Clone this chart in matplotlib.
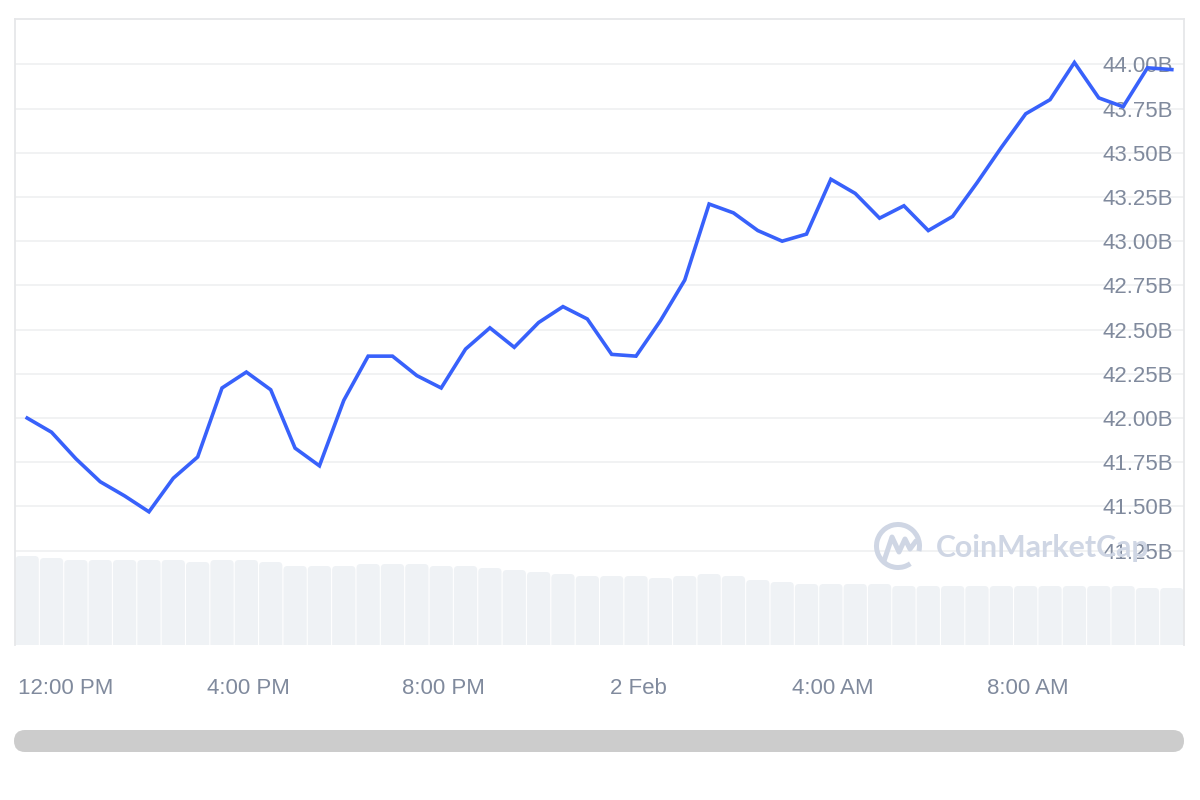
import matplotlib
matplotlib.use("Agg")
import matplotlib.pyplot as plt
import matplotlib.dates as mdates
import matplotlib.transforms as mtransforms
from matplotlib.patches import FancyBboxPatch, Arc
from matplotlib.lines import Line2D
import pandas as pd

# market cap, billions, one point every 30 min
price = [42.00, 41.92, 41.77, 41.64, 41.56, 41.47, 41.66, 41.78, 42.17, 42.26,
         42.16, 41.83, 41.73, 42.10, 42.35, 42.35, 42.24, 42.17, 42.39, 42.51,
         42.40, 42.54, 42.63, 42.56, 42.36, 42.35, 42.55, 42.78, 43.21, 43.16,
         43.06, 43.00, 43.04, 43.35, 43.27, 43.13, 43.20, 43.06, 43.14, 43.33,
         43.53, 43.72, 43.80, 44.01, 43.81, 43.76, 43.98, 43.97]
# volume, relative units
volume = [8.9, 8.7, 8.5, 8.5, 8.5, 8.5, 8.5, 8.3, 8.5, 8.5,
          8.3, 7.9, 7.9, 7.9, 8.1, 8.1, 8.1, 7.9, 7.9, 7.7,
          7.5, 7.3, 7.1, 6.9, 6.9, 6.9, 6.7, 6.9, 7.1, 6.9,
          6.5, 6.3, 6.1, 6.1, 6.1, 6.1, 5.9, 5.9, 5.9, 5.9,
          5.9, 5.9, 5.9, 5.9, 5.9, 5.9, 5.7, 5.7]
times = pd.date_range("2024-02-01 11:27", periods=len(price), freq="30min")

ytick_values = [41.25, 41.50, 41.75, 42.00, 42.25, 42.50, 42.75, 43.00, 43.25, 43.50, 43.75, 44.00]
xtick_times = pd.to_datetime(["2024-02-01 12:00", "2024-02-01 16:00", "2024-02-01 20:00",
                              "2024-02-02 00:00", "2024-02-02 04:00", "2024-02-02 08:00"])
xtick_labels = ["12:00 PM", "4:00 PM", "8:00 PM", "2 Feb", "4:00 AM", "8:00 AM"]

BLUE = "#3861fb"
GREY_TXT = "#808a9d"
BAR = "#eff2f5"
GRID = "#f0f1f2"

plt.rcParams['font.family'] = ['Liberation Sans', 'DejaVu Sans']

W, H = 1200, 800
fig = plt.figure(figsize=(12, 8), dpi=100)
ax = fig.add_axes([15 / W, 1 - 645 / H, 1169 / W, 626 / H])
ax2 = ax.twinx()
ax.set_zorder(2)
ax2.set_zorder(1)
ax.patch.set_visible(False)

x = mdates.date2num(times)
step = x[1] - x[0]
ax.set_xlim(x[0] - step / 2, x[-1] + step / 2)
ax.set_ylim(40.717, 44.256)
ax2.set_ylim(0, 62.6)

# volume bars with rounded tops
bars = ax2.bar(x, volume, width=step * 0.955, color=BAR)
px_x = step / 24.36
px_y = 0.1
for b in bars:
    b.set_visible(False)
    r = FancyBboxPatch((b.get_x(), -1), b.get_width(), b.get_height() + 1,
                       boxstyle=f"round,pad=0,rounding_size={4 * px_x}",
                       mutation_aspect=px_y / px_x, facecolor=BAR, edgecolor="none")
    ax2.add_patch(r)
ax2.set_yticks([])
for s in ax2.spines.values():
    s.set_visible(False)

ax.plot(x, price, color=BLUE, lw=2.6, solid_joinstyle="miter", zorder=3)

ax.set_yticks(ytick_values)
ax.set_yticklabels([f"{v:.2f}B" for v in ytick_values])
ax.yaxis.tick_right()
ax.tick_params(axis="y", length=0, pad=-8, labelsize=16, labelcolor=GREY_TXT)
for lbl in ax.get_yticklabels():
    lbl.set_horizontalalignment("right")
ax.grid(axis="y", color=GRID, lw=1.3)
ax.set_axisbelow(True)

ax.set_xticks(mdates.date2num(xtick_times))
ax.set_xticklabels(xtick_labels)
ax.tick_params(axis="x", length=0, pad=24, labelsize=16, labelcolor=GREY_TXT)
first = ax.get_xticklabels()[0]
first.set_transform(first.get_transform() + mtransforms.ScaledTranslation(0.12, 0, fig.dpi_scale_trans))

for side in ["left", "top", "right"]:
    ax.spines[side].set_color("#e6e7e9")
    ax.spines[side].set_linewidth(1.3)
ax.spines["bottom"].set_visible(False)


def fx(px):
    return px / W


def fy(py):
    return 1 - py / H


# watermark
WM = "#cfd6e4"
fig.add_artist(Arc((fx(898), fy(546)), 43 / W, 43 / H, theta1=-20, theta2=295,
                   transform=fig.transFigure, color=WM, lw=3.6, zorder=5))
fig.add_artist(Line2D([fx(884), fx(892), fx(899), fx(905), fx(910), fx(916)],
                      [fy(561), fy(537), fy(552), fy(539), fy(549), fy(541)],
                      transform=fig.transFigure, color=WM, lw=3.6,
                      solid_capstyle="round", solid_joinstyle="round", zorder=5))
fig.text(fx(936), fy(548), "CoinMarketCap", color=WM, fontsize=21.8, fontweight="bold",
         family=["Lato", "DejaVu Sans"], va="center", ha="left", zorder=5)

# scrollbar
fig.add_artist(FancyBboxPatch((fx(14), fy(752)), 1170 / W, 22 / H,
                              boxstyle=f"round,pad=0,rounding_size={11 / W}",
                              mutation_aspect=1.5, transform=fig.transFigure,
                              facecolor="#cccccc", edgecolor="none"))

fig.savefig("out.png", dpi=100)
